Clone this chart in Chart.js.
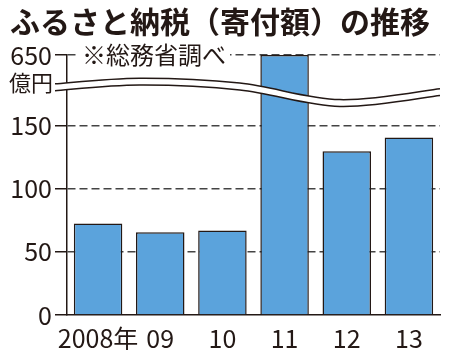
<!DOCTYPE html>
<html>
<head>
<meta charset="utf-8">
<script src="https://cdn.jsdelivr.net/npm/chart.js@4.4.0/dist/chart.umd.min.js"></script>
<style>
    html, body { margin: 0; padding: 0; background: #fff; }
</style>
</head>
<body>
<canvas id="chart" width="450" height="350"></canvas>
<script>
const years = ['2008年', '09', '10', '11', '12', '13'];
const amounts = [72.6, 65.6, 67.1, 649.1, 130.0, 140.8]; // 億円
const yTicks = [0, 50, 100, 150, 650];

const INK = '#231815';
const FONT = "'Noto Sans CJK JP', 'Noto Sans', sans-serif";

// axis is broken above 150: 650 sits at the very top of the axis
const AXIS_TOP = 206.3;
function toAxis(v) {
    if (v <= 160) return v;
    return AXIS_TOP - (650 - v) * 0.1;
}

// the wavy white band that marks the break
const breakBand = {
    id: 'breakBand',
    afterDatasetsDraw(chart) {
        const { ctx, chartArea, scales: { y } } = chart;
        const left = chartArea.left - 12;
        const w = chartArea.right - left;
        // centre line of the band: [fraction across, axis value]
        const pts = [[0, 180.7], [0.22, 185.2], [0.48, 181.3], [0.74, 168.2], [1, 176.9]]
            .map(p => ({ x: left + p[0] * w, y: y.getPixelForValue(p[1]) }));

        const curve = (off) => {
            const path = [];
            for (let i = 0; i < pts.length - 1; i++) {
                const p0 = pts[Math.max(i - 1, 0)], p1 = pts[i], p2 = pts[i + 1], p3 = pts[Math.min(i + 2, pts.length - 1)];
                path.push({
                    c1: { x: p1.x + (p2.x - p0.x) / 6, y: p1.y + (p2.y - p0.y) / 6 + off },
                    c2: { x: p2.x - (p3.x - p1.x) / 6, y: p2.y - (p3.y - p1.y) / 6 + off },
                    to: { x: p2.x, y: p2.y + off }
                });
            }
            return path;
        };
        const half = 3.4;
        const top = curve(-half), bottom = curve(half);

        ctx.save();
        ctx.beginPath();
        ctx.moveTo(pts[0].x, pts[0].y - half);
        top.forEach(s => ctx.bezierCurveTo(s.c1.x, s.c1.y, s.c2.x, s.c2.y, s.to.x, s.to.y));
        ctx.lineTo(pts[pts.length - 1].x, pts[pts.length - 1].y + half);
        for (let i = bottom.length - 1; i >= 0; i--) {
            const s = bottom[i];
            const start = i === 0 ? { x: pts[0].x, y: pts[0].y + half } : bottom[i - 1].to;
            ctx.bezierCurveTo(s.c2.x, s.c2.y, s.c1.x, s.c1.y, start.x, start.y);
        }
        ctx.closePath();
        ctx.fillStyle = '#fff';
        ctx.fill();

        ctx.strokeStyle = INK;
        ctx.lineWidth = 1.5;
        [[top, -half], [bottom, half]].forEach(([segs, off]) => {
            ctx.beginPath();
            ctx.moveTo(pts[0].x, pts[0].y + off);
            segs.forEach(s => ctx.bezierCurveTo(s.c1.x, s.c1.y, s.c2.x, s.c2.y, s.to.x, s.to.y));
            ctx.stroke();
        });
        ctx.restore();
    }
};

// source note on the top grid line, and the unit under "650"
const notes = {
    id: 'notes',
    beforeDatasetsDraw(chart) {
        const { ctx, chartArea, scales: { y } } = chart;
        const yTop = y.getPixelForValue(AXIS_TOP);
        ctx.save();
        ctx.font = '24px ' + FONT;
        ctx.textBaseline = 'middle';
        ctx.textAlign = 'left';
        const text = '※総務省調べ';
        const tw = ctx.measureText(text).width;
        const x0 = chartArea.left + 15;
        ctx.fillStyle = '#fff';
        ctx.fillRect(x0 - 6, yTop - 13, tw + 10, 26);
        ctx.fillStyle = INK;
        ctx.fillText(text, x0, yTop);

        ctx.font = '22px ' + FONT;
        ctx.textAlign = 'right';
        ctx.fillText('億円', chartArea.left - 14, yTop + 28);
        ctx.restore();
    }
};

new Chart(document.getElementById('chart'), {
    type: 'bar',
    data: {
        labels: years,
        datasets: [{
            data: amounts.map(toAxis),
            backgroundColor: '#5ba3dc',
            borderColor: INK,
            borderWidth: 1.5,
            categoryPercentage: 1,
            barPercentage: 0.78
        }]
    },
    options: {
        responsive: false,
        animation: false,
        layout: { padding: { top: 2, left: 0, right: 10, bottom: 0 } },
        plugins: {
            legend: { display: false },
            tooltip: { enabled: false },
            title: {
                display: true,
                text: 'ふるさと納税（寄付額）の推移',
                color: INK,
                font: { family: FONT, size: 30, weight: 'bold' },
                padding: { top: 2, bottom: 15 }
            }
        },
        scales: {
            x: {
                grid: { display: false },
                border: { color: INK, width: 1.5 },
                ticks: { color: INK, font: { family: FONT, size: 25 }, padding: 0, maxRotation: 0, autoSkip: false },
                afterFit: (s) => { s.height = 35; }
            },
            y: {
                min: 0,
                max: AXIS_TOP,
                afterBuildTicks: (s) => { s.ticks = yTicks.map(v => ({ value: toAxis(v) })); },
                border: { color: INK, width: 1.5, dash: [8, 4] },
                grid: {
                    color: (c) => c.tick && c.tick.value === 0 ? 'rgba(0,0,0,0)' : '#444',
                    lineWidth: 1.5,
                    tickLength: 12,
                    tickColor: INK,
                    tickWidth: 1.5
                },
                ticks: {
                    color: INK,
                    padding: 3,
                    font: { family: FONT, size: 25 },
                    callback: (val) => {
                        const t = yTicks.find(v => Math.abs(toAxis(v) - val) < 0.01);
                        return t === undefined ? '' : String(t);
                    }
                },
                afterFit: (s) => { s.width = 67; }
            }
        }
    },
    plugins: [notes, breakBand]
});
</script>
</body>
</html>
